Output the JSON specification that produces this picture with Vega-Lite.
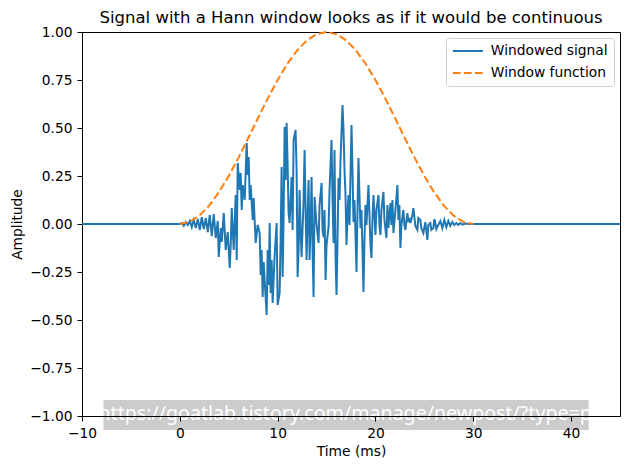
{
  "$schema": "https://vega.github.io/schema/vega-lite/v6.json",
  "width": 538,
  "height": 384,
  "autosize": {"type": "none"},
  "padding": {"left": 82, "top": 32, "right": 10, "bottom": 54},
  "title": {"text": "Signal with a Hann window looks as if it would be continuous", "fontSize": 16.5, "fontWeight": "normal", "font": "DejaVu Sans", "color": "black", "anchor": "middle", "offset": -1},
  "datasets": {
    "sig": [
      {"s":"Windowed signal","t":-10,"v":0},{"s":"Windowed signal","t":0,"v":0},{"s":"Windowed signal","t":0.204,"v":0.005},{"s":"Windowed signal","t":0.408,"v":-0.010},{"s":"Windowed signal","t":0.612,"v":0.010},{"s":"Windowed signal","t":0.816,"v":-0.005},{"s":"Windowed signal","t":1.020,"v":0.016},{"s":"Windowed signal","t":1.224,"v":-0.016},{"s":"Windowed signal","t":1.429,"v":0.021},{"s":"Windowed signal","t":1.633,"v":-0.021},{"s":"Windowed signal","t":1.837,"v":0.026},{"s":"Windowed signal","t":2.041,"v":-0.031},{"s":"Windowed signal","t":2.245,"v":0.036},{"s":"Windowed signal","t":2.449,"v":-0.026},{"s":"Windowed signal","t":2.653,"v":0.031},{"s":"Windowed signal","t":2.857,"v":-0.042},{"s":"Windowed signal","t":3.061,"v":0.047},{"s":"Windowed signal","t":3.265,"v":-0.063},{"s":"Windowed signal","t":3.469,"v":0.052},{"s":"Windowed signal","t":3.673,"v":-0.073},{"s":"Windowed signal","t":3.878,"v":0.016},{"s":"Windowed signal","t":3.980,"v":-0.172},{"s":"Windowed signal","t":4.184,"v":-0.021},{"s":"Windowed signal","t":4.286,"v":-0.094},{"s":"Windowed signal","t":4.490,"v":0.057},{"s":"Windowed signal","t":4.694,"v":-0.135},{"s":"Windowed signal","t":4.898,"v":-0.042},{"s":"Windowed signal","t":5.102,"v":-0.229},{"s":"Windowed signal","t":5.204,"v":-0.109},{"s":"Windowed signal","t":5.306,"v":0.083},{"s":"Windowed signal","t":5.510,"v":-0.135},{"s":"Windowed signal","t":5.714,"v":0.151},{"s":"Windowed signal","t":5.816,"v":-0.188},{"s":"Windowed signal","t":5.918,"v":0.318},{"s":"Windowed signal","t":6.122,"v":0.177},{"s":"Windowed signal","t":6.224,"v":0.266},{"s":"Windowed signal","t":6.327,"v":0.073},{"s":"Windowed signal","t":6.429,"v":0.203},{"s":"Windowed signal","t":6.633,"v":0.125},{"s":"Windowed signal","t":6.837,"v":0.422},{"s":"Windowed signal","t":6.939,"v":0.255},{"s":"Windowed signal","t":7.041,"v":0.349},{"s":"Windowed signal","t":7.143,"v":0.125},{"s":"Windowed signal","t":7.245,"v":0.203},{"s":"Windowed signal","t":7.449,"v":0.021},{"s":"Windowed signal","t":7.551,"v":0.135},{"s":"Windowed signal","t":7.755,"v":-0.099},{"s":"Windowed signal","t":7.959,"v":-0.005},{"s":"Windowed signal","t":8.163,"v":-0.047},{"s":"Windowed signal","t":8.265,"v":-0.266},{"s":"Windowed signal","t":8.367,"v":-0.135},{"s":"Windowed signal","t":8.469,"v":-0.380},{"s":"Windowed signal","t":8.571,"v":-0.198},{"s":"Windowed signal","t":8.673,"v":-0.292},{"s":"Windowed signal","t":8.878,"v":-0.474},{"s":"Windowed signal","t":8.980,"v":-0.135},{"s":"Windowed signal","t":9.082,"v":-0.318},{"s":"Windowed signal","t":9.184,"v":0.005},{"s":"Windowed signal","t":9.286,"v":-0.359},{"s":"Windowed signal","t":9.388,"v":-0.188},{"s":"Windowed signal","t":9.490,"v":-0.411},{"s":"Windowed signal","t":9.694,"v":-0.161},{"s":"Windowed signal","t":9.898,"v":0.005},{"s":"Windowed signal","t":10.000,"v":-0.422},{"s":"Windowed signal","t":10.204,"v":-0.359},{"s":"Windowed signal","t":10.306,"v":-0.083},{"s":"Windowed signal","t":10.408,"v":0.297},{"s":"Windowed signal","t":10.510,"v":-0.276},{"s":"Windowed signal","t":10.612,"v":0.047},{"s":"Windowed signal","t":10.714,"v":0.505},{"s":"Windowed signal","t":10.816,"v":0.229},{"s":"Windowed signal","t":10.918,"v":0.526},{"s":"Windowed signal","t":11.020,"v":0.307},{"s":"Windowed signal","t":11.122,"v":0.057},{"s":"Windowed signal","t":11.224,"v":0.005},{"s":"Windowed signal","t":11.429,"v":0.245},{"s":"Windowed signal","t":11.531,"v":-0.031},{"s":"Windowed signal","t":11.633,"v":0.438},{"s":"Windowed signal","t":11.837,"v":0.490},{"s":"Windowed signal","t":11.939,"v":0.281},{"s":"Windowed signal","t":12.041,"v":-0.276},{"s":"Windowed signal","t":12.143,"v":-0.135},{"s":"Windowed signal","t":12.245,"v":0.177},{"s":"Windowed signal","t":12.347,"v":-0.031},{"s":"Windowed signal","t":12.449,"v":-0.172},{"s":"Windowed signal","t":12.653,"v":0.125},{"s":"Windowed signal","t":12.755,"v":0.385},{"s":"Windowed signal","t":12.857,"v":0.073},{"s":"Windowed signal","t":12.959,"v":-0.188},{"s":"Windowed signal","t":13.061,"v":0.047},{"s":"Windowed signal","t":13.163,"v":0.229},{"s":"Windowed signal","t":13.265,"v":-0.188},{"s":"Windowed signal","t":13.367,"v":-0.005},{"s":"Windowed signal","t":13.469,"v":0.245},{"s":"Windowed signal","t":13.571,"v":-0.135},{"s":"Windowed signal","t":13.673,"v":-0.380},{"s":"Windowed signal","t":13.776,"v":0.141},{"s":"Windowed signal","t":13.980,"v":-0.005},{"s":"Windowed signal","t":14.184,"v":-0.099},{"s":"Windowed signal","t":14.286,"v":0.099},{"s":"Windowed signal","t":14.490,"v":0.214},{"s":"Windowed signal","t":14.592,"v":-0.031},{"s":"Windowed signal","t":14.694,"v":-0.068},{"s":"Windowed signal","t":14.796,"v":0.073},{"s":"Windowed signal","t":14.898,"v":-0.292},{"s":"Windowed signal","t":15.000,"v":-0.109},{"s":"Windowed signal","t":15.204,"v":-0.016},{"s":"Windowed signal","t":15.306,"v":0.177},{"s":"Windowed signal","t":15.510,"v":0.438},{"s":"Windowed signal","t":15.612,"v":0.125},{"s":"Windowed signal","t":15.714,"v":-0.099},{"s":"Windowed signal","t":15.816,"v":0.385},{"s":"Windowed signal","t":15.918,"v":-0.161},{"s":"Windowed signal","t":16.020,"v":-0.370},{"s":"Windowed signal","t":16.122,"v":-0.083},{"s":"Windowed signal","t":16.224,"v":0.240},{"s":"Windowed signal","t":16.327,"v":0.125},{"s":"Windowed signal","t":16.429,"v":0.333},{"s":"Windowed signal","t":16.633,"v":0.620},{"s":"Windowed signal","t":16.735,"v":0.490},{"s":"Windowed signal","t":16.837,"v":0.281},{"s":"Windowed signal","t":16.939,"v":0.151},{"s":"Windowed signal","t":17.041,"v":-0.109},{"s":"Windowed signal","t":17.143,"v":0.047},{"s":"Windowed signal","t":17.245,"v":0.151},{"s":"Windowed signal","t":17.347,"v":-0.005},{"s":"Windowed signal","t":17.551,"v":0.516},{"s":"Windowed signal","t":17.653,"v":0.281},{"s":"Windowed signal","t":17.755,"v":0.010},{"s":"Windowed signal","t":17.857,"v":0.125},{"s":"Windowed signal","t":17.959,"v":-0.057},{"s":"Windowed signal","t":18.061,"v":-0.250},{"s":"Windowed signal","t":18.163,"v":0.073},{"s":"Windowed signal","t":18.265,"v":0.344},{"s":"Windowed signal","t":18.367,"v":0.151},{"s":"Windowed signal","t":18.469,"v":-0.021},{"s":"Windowed signal","t":18.571,"v":0.073},{"s":"Windowed signal","t":18.776,"v":-0.354},{"s":"Windowed signal","t":18.878,"v":-0.083},{"s":"Windowed signal","t":18.980,"v":0.099},{"s":"Windowed signal","t":19.082,"v":-0.005},{"s":"Windowed signal","t":19.286,"v":0.203},{"s":"Windowed signal","t":19.388,"v":0.047},{"s":"Windowed signal","t":19.490,"v":-0.109},{"s":"Windowed signal","t":19.592,"v":-0.177},{"s":"Windowed signal","t":19.694,"v":0.021},{"s":"Windowed signal","t":19.796,"v":0.151},{"s":"Windowed signal","t":19.898,"v":0.047},{"s":"Windowed signal","t":20.000,"v":-0.057},{"s":"Windowed signal","t":20.102,"v":0.073},{"s":"Windowed signal","t":20.306,"v":0.151},{"s":"Windowed signal","t":20.408,"v":-0.005},{"s":"Windowed signal","t":20.510,"v":-0.057},{"s":"Windowed signal","t":20.612,"v":0.073},{"s":"Windowed signal","t":20.816,"v":0.167},{"s":"Windowed signal","t":20.918,"v":0.021},{"s":"Windowed signal","t":21.122,"v":-0.073},{"s":"Windowed signal","t":21.224,"v":0.099},{"s":"Windowed signal","t":21.327,"v":-0.021},{"s":"Windowed signal","t":21.531,"v":0.109},{"s":"Windowed signal","t":21.633,"v":-0.005},{"s":"Windowed signal","t":21.735,"v":0.125},{"s":"Windowed signal","t":21.837,"v":-0.047},{"s":"Windowed signal","t":22.041,"v":0.073},{"s":"Windowed signal","t":22.245,"v":0.203},{"s":"Windowed signal","t":22.347,"v":0.021},{"s":"Windowed signal","t":22.449,"v":0.099},{"s":"Windowed signal","t":22.551,"v":-0.125},{"s":"Windowed signal","t":22.653,"v":-0.005},{"s":"Windowed signal","t":22.755,"v":0.036},{"s":"Windowed signal","t":22.857,"v":0.073},{"s":"Windowed signal","t":22.959,"v":-0.005},{"s":"Windowed signal","t":23.061,"v":-0.031},{"s":"Windowed signal","t":23.265,"v":0.057},{"s":"Windowed signal","t":23.367,"v":0.010},{"s":"Windowed signal","t":23.469,"v":0.031},{"s":"Windowed signal","t":23.571,"v":0.005},{"s":"Windowed signal","t":23.776,"v":0.047},{"s":"Windowed signal","t":23.878,"v":0.083},{"s":"Windowed signal","t":24.082,"v":-0.010},{"s":"Windowed signal","t":24.286,"v":-0.031},{"s":"Windowed signal","t":24.388,"v":0.031},{"s":"Windowed signal","t":24.592,"v":0.021},{"s":"Windowed signal","t":24.694,"v":-0.021},{"s":"Windowed signal","t":24.898,"v":-0.047},{"s":"Windowed signal","t":25.102,"v":0.010},{"s":"Windowed signal","t":25.306,"v":-0.083},{"s":"Windowed signal","t":25.408,"v":-0.005},{"s":"Windowed signal","t":25.612,"v":0.005},{"s":"Windowed signal","t":25.714,"v":-0.031},{"s":"Windowed signal","t":25.918,"v":-0.021},{"s":"Windowed signal","t":26.020,"v":0.026},{"s":"Windowed signal","t":26.122,"v":0.005},{"s":"Windowed signal","t":26.224,"v":-0.026},{"s":"Windowed signal","t":26.429,"v":-0.005},{"s":"Windowed signal","t":26.633,"v":0.016},{"s":"Windowed signal","t":26.837,"v":-0.021},{"s":"Windowed signal","t":27.041,"v":0.021},{"s":"Windowed signal","t":27.245,"v":-0.016},{"s":"Windowed signal","t":27.449,"v":0.016},{"s":"Windowed signal","t":27.653,"v":-0.010},{"s":"Windowed signal","t":27.857,"v":0.010},{"s":"Windowed signal","t":28.061,"v":-0.005},{"s":"Windowed signal","t":28.265,"v":0.005},{"s":"Windowed signal","t":28.469,"v":-0.005},{"s":"Windowed signal","t":28.673,"v":0.005},{"s":"Windowed signal","t":28.878,"v":-0.003},{"s":"Windowed signal","t":29.184,"v":0.002},{"s":"Windowed signal","t":29.592,"v":0},{"s":"Windowed signal","t":30,"v":0},{"s":"Windowed signal","t":45,"v":0}
    ],
    "win": [
      {"s":"Window function","t":0,"v":0},{"s":"Window function","t":1,"v":0.0109},{"s":"Window function","t":2,"v":0.0432},{"s":"Window function","t":3,"v":0.0955},{"s":"Window function","t":4,"v":0.1654},{"s":"Window function","t":5,"v":0.25},{"s":"Window function","t":6,"v":0.3455},{"s":"Window function","t":7,"v":0.4477},{"s":"Window function","t":8,"v":0.5523},{"s":"Window function","t":9,"v":0.6545},{"s":"Window function","t":10,"v":0.75},{"s":"Window function","t":11,"v":0.8346},{"s":"Window function","t":12,"v":0.9045},{"s":"Window function","t":13,"v":0.9568},{"s":"Window function","t":14,"v":0.9891},{"s":"Window function","t":15,"v":1},{"s":"Window function","t":16,"v":0.9891},{"s":"Window function","t":17,"v":0.9568},{"s":"Window function","t":18,"v":0.9045},{"s":"Window function","t":19,"v":0.8346},{"s":"Window function","t":20,"v":0.75},{"s":"Window function","t":21,"v":0.6545},{"s":"Window function","t":22,"v":0.5523},{"s":"Window function","t":23,"v":0.4477},{"s":"Window function","t":24,"v":0.3455},{"s":"Window function","t":25,"v":0.25},{"s":"Window function","t":26,"v":0.1654},{"s":"Window function","t":27,"v":0.0955},{"s":"Window function","t":28,"v":0.0432},{"s":"Window function","t":29,"v":0.0109},{"s":"Window function","t":30,"v":0}
    ],
    "wm": [
      {"x1": -7.8, "x2": 41.8, "y1": -0.917, "y2": -1.073, "xc": 16.9, "yc": -0.99, "label": "https://goatlab.tistory.com/manage/newpost/?type=p"}
    ]
  },
  "layer": [
    {
      "data": {"name": "sig"},
      "mark": {"type": "line", "strokeWidth": 2},
      "encoding": {
        "x": {"field": "t", "type": "quantitative", "scale": {"domain": [-10, 45], "nice": false, "zero": false}, "axis": {"title": "Time (ms)", "values": [-10, 0, 10, 20, 30, 40], "format": "d", "zindex": 1}},
        "y": {"field": "v", "type": "quantitative", "scale": {"domain": [-1, 1], "nice": false, "zero": false}, "axis": {"title": "Amplitude", "values": [-1, -0.75, -0.5, -0.25, 0, 0.25, 0.5, 0.75, 1], "format": ".2f"}},
        "color": {"field": "s", "type": "nominal", "scale": {"domain": ["Windowed signal", "Window function"], "range": ["#1f77b4", "#ff7f0e"]}, "legend": {"title": null}},
        "strokeDash": {"field": "s", "type": "nominal", "scale": {"domain": ["Windowed signal", "Window function"], "range": [[1, 0], [7.7, 3.3]]}, "legend": {"title": null}}
      }
    },
    {
      "data": {"name": "win"},
      "mark": {"type": "line", "strokeWidth": 2},
      "encoding": {
        "x": {"field": "t", "type": "quantitative"},
        "y": {"field": "v", "type": "quantitative"},
        "color": {"field": "s", "type": "nominal"},
        "strokeDash": {"field": "s", "type": "nominal"}
      }
    },
    {
      "data": {"name": "wm"},
      "mark": {"type": "rect", "color": "#cccccc", "opacity": 1},
      "encoding": {
        "x": {"field": "x1", "type": "quantitative"},
        "x2": {"field": "x2"},
        "y": {"field": "y1", "type": "quantitative"},
        "y2": {"field": "y2"}
      }
    },
    {
      "data": {"name": "wm"},
      "mark": {"type": "text", "color": "white", "font": "Noto Sans", "fontSize": 19.6, "baseline": "middle", "align": "center"},
      "encoding": {
        "x": {"field": "xc", "type": "quantitative"},
        "y": {"field": "yc", "type": "quantitative"},
        "text": {"field": "label"}
      }
    }
  ],
  "config": {
    "font": "DejaVu Sans",
    "view": {"stroke": "black", "strokeWidth": 1},
    "axis": {"grid": false, "domainColor": "black", "domainWidth": 1, "tickColor": "black", "tickWidth": 1, "tickSize": 5, "labelPadding": 5, "labelFont": "DejaVu Sans", "labelFontSize": 13.8, "labelColor": "black", "titleFont": "DejaVu Sans", "titleFontSize": 13.8, "titleFontWeight": "normal", "titleColor": "black", "titlePadding": 5, "labelFlush": false},
    "legend": {"orient": "top-right", "offset": 6, "fillColor": "white", "strokeColor": "#d0d0d0", "cornerRadius": 3, "padding": 6, "labelFont": "DejaVu Sans", "labelFontSize": 13.8, "labelColor": "black", "symbolType": "M-3,0H3", "symbolSize": 100, "symbolStrokeWidth": 2, "symbolOffset": 9, "labelOffset": 16, "rowPadding": 7}
  }
}
